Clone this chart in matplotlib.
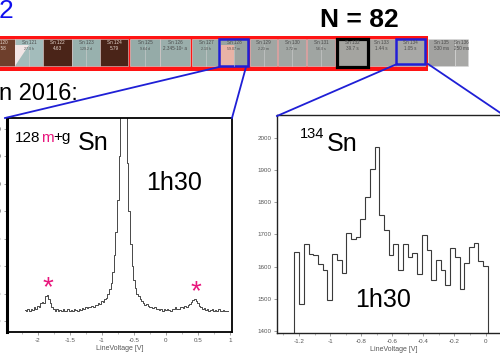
import numpy as np
import matplotlib
matplotlib.use("Agg")
import matplotlib.pyplot as plt
from matplotlib.patches import Rectangle, Polygon
from matplotlib.ticker import MultipleLocator

plt.rcParams['font.family'] = ['Liberation Sans', 'DejaVu Sans']

# --- 128m+g Sn scan (left panel)
volt_128 = np.round(np.arange(-2.2, 0.976, 0.025), 3)
counts_128 = [280, 275, 290, 270, 285, 280, 300, 290, 310, 300,
              330, 340, 335, 380, 390, 360, 330, 300, 290, 270,
              285, 275, 280, 270, 285, 275, 270, 285, 275, 280,
              270, 290, 280, 275, 290, 280, 295, 285, 300, 295,
              305, 300, 310, 305, 320, 315, 330, 325, 345, 340,
              360, 370, 395, 430, 480, 560, 680, 850, 1080, 1400,
              1850, 2400, 2500, 1900, 1350, 1000, 760, 600, 500, 440,
              400, 380, 360, 345, 335, 320, 325, 310, 305, 300,
              295, 300, 285, 290, 280, 285, 275, 285, 280, 290,
              280, 275, 290, 285, 300, 290, 285, 300, 305, 295,
              310, 300, 315, 325, 340, 350, 360, 345, 330, 310,
              300, 290, 295, 280, 290, 275, 280, 285, 270, 280,
              275, 285, 270, 275, 280, 270, 275, 270]
ticks_128 = [200, 400, 600, 800, 1000, 1200, 1400, 1600]

# --- 134Sn scan (right panel), histogram bins
edges_134 = np.linspace(-1.23, 0.015, 42)
counts_134 = [1645, 1484, 1671, 1640, 1635, 1609, 1588, 1497, 1640, 1619,
              1580, 1704, 1686, 1692, 1746, 1816, 1904, 1970, 1761, 1712,
              1635, 1669, 1590, 1669, 1629, 1642, 1577, 1697, 1652, 1559,
              1621, 1588, 1543, 1658, 1629, 1529, 1612, 1660, 1673, 1616,
              1601]

# --- strip of the nuclide chart
isotopes = ['Sn 120', 'Sn 121', 'Sn 122', 'Sn 123', 'Sn 124', 'Sn 125',
            'Sn 126', 'Sn 127', 'Sn 128', 'Sn 129', 'Sn 130', 'Sn 131',
            'Sn 132', 'Sn 133', 'Sn 134', 'Sn 135', 'Sn 136']
half_lives = ['32.58', '27.0 h', '4.63', '129.2 d', '5.79', '9.64 d',
              '2.345·10⁵ a', '2.10 h', '59.07 m', '2.23 m', '3.72 m',
              '56.0 s', '39.7 s', '1.44 s', '1.05 s', '530 ms', '250 ms']

W, H = 500, 361
fig = plt.figure(figsize=(5, 3.61), dpi=100)


def px_rect(l, t, r, b):
    return [l / W, (H - b) / H, (r - l) / W, (b - t) / H]


grey_txt = '#555555'
mag = '#e8177d'
blue = '#1f1fd6'

# left panel
ax1 = fig.add_axes(px_rect(7, 118, 232, 332))
ax1.plot(volt_128, counts_128, drawstyle='steps-mid', color='#484848', lw=0.7)
ax1.set_xlim(-2.48, 1.03)
ax1.set_ylim(120, 1680)
ax1.set_yticks(ticks_128)
ax1.xaxis.set_minor_locator(MultipleLocator(0.25))
ax1.set_xticks([-2, -1.5, -1, -0.5, 0, 0.5, 1])
ax1.set_xticklabels(['-2', '-1.5', '-1', '-0.5', '0', '0.5', '1'])
for s in ax1.spines.values():
    s.set_linewidth(1.3)
    s.set_color('black')
ax1.spines['left'].set_linewidth(2.2)
ax1.set_xlabel('LineVoltage [V]', fontsize=5, color=grey_txt, labelpad=2)

# right panel
ax2 = fig.add_axes(px_rect(277, 115, 510, 333))
ax2.stairs(counts_134, edges_134, color='#3a3a3a', lw=0.8)
ax2.set_xlim(-1.3415, 0.157)
ax2.set_ylim(1394, 2070)
ax2.set_xticks([-1.2, -1, -0.8, -0.6, -0.4, -0.2, 0])
ax2.set_xticklabels(['-1.2', '-1', '-0.8', '-0.6', '-0.4', '-0.2', '0'])
ax2.xaxis.set_minor_locator(MultipleLocator(0.1))
ax2.set_yticks([1400, 1500, 1600, 1700, 1800, 1900, 2000])
for s in ax2.spines.values():
    s.set_linewidth(1.0)
    s.set_color('#222222')
ax2.set_xlabel('LineVoltage [V]', fontsize=5, color=grey_txt, labelpad=2)

for ax in (ax1, ax2):
    ax.tick_params(which='major', labelsize=4.5, length=2, width=0.5,
                   color='#777777', labelcolor=grey_txt, pad=2)
    ax.tick_params(which='minor', length=1.2, width=0.4, color='#888888')

# overlay in pixel coordinates
ov = fig.add_axes([0, 0, 1, 1], zorder=10)
ov.patch.set_alpha(0)
ov.set_xlim(0, W)
ov.set_ylim(H, 0)
ov.axis('off')

# red frame behind the chart strip
ov.add_patch(Rectangle((-5, 36), 433, 35, color='#ff1414', lw=0))

cells = [(-14, 15), (15, 43), (43, 72), (72, 100), (100, 128), (130, 160),
         (160, 190), (192, 220), (220, 248), (250, 277), (278, 306),
         (307, 335), (337, 368), (368, 395), (396, 425), (428, 455), (455, 468)]
fills = ['#6e3f2c', '#a3bcbb', '#4a2418', '#98b1ae', '#4a2418', '#95aba8',
         '#9aaeab', '#98aca8', '#99a3a0', '#a0a6a3', '#a1a6a3', '#a0a5a2',
         '#a4a4a0', '#a6a6a2', '#a8a8a6', '#a2a2a0', '#a8a8a6']
split = [1, 3, 5, 7, 8, 9, 10, 11]
for i, (x0, x1) in enumerate(cells):
    ov.add_patch(Rectangle((x0, 39), x1 - x0, 27, facecolor=fills[i],
                           edgecolor='#d8d8d8', lw=0.4))
    dark = fills[i] in ('#6e3f2c', '#4a2418')
    tc = '#e6d8d0' if dark else '#4a4a4a'
    xm = (x0 + x1) / 2
    if i in split:
        ov.plot([xm, xm], [45, 66], color='#d0d0d0', lw=0.4)
    if i == 1:
        ov.add_patch(Polygon([[x0, 66], [x0, 45], [xm, 45]], closed=True,
                             facecolor='#f2e6e6', lw=0))
    if i == 8:
        ov.add_patch(Rectangle((x0, 45), xm - x0, 21, facecolor='#e8b3a6', lw=0))
    ov.text(xm, 43, isotopes[i], fontsize=3.3, color=tc, ha='center',
            va='center')
    ov.text(xm, 49, half_lives[i], fontsize=3.3 if i not in split else 2.6,
            color=tc, ha='center', va='center')

ov.add_patch(Rectangle((337, 39), 31, 28, fill=False, edgecolor='black', lw=2.3))
ov.add_patch(Rectangle((219, 39), 29, 27, fill=False, edgecolor=blue, lw=1.8))
ov.add_patch(Rectangle((396, 39), 29, 25, fill=False, edgecolor=blue, lw=1.8))

# zoom lines
ov.plot([219, 5], [67, 118], color=blue, lw=1.3)
ov.plot([246, 232], [67, 118], color=blue, lw=1.3)
ov.plot([397, 277], [64, 116], color=blue, lw=1.3)
ov.plot([428, 502], [64, 114], color=blue, lw=1.3)

# slide texts
ov.text(-1, 18.3, '2', fontsize=19, color='#1010ee', va='baseline')
ov.text(359, 26.7, 'N = 82', fontsize=19, fontweight='bold', ha='center',
        va='baseline')
ov.text(-1, 100, 'n 2016:', fontsize=17, va='baseline')

# labels inside the panels
ov.text(15, 141.5, '128', fontsize=11, va='baseline')
ov.text(41.5, 141.5, 'm', fontsize=11, color=mag, va='baseline')
ov.text(53.5, 141.5, '+g', fontsize=11, va='baseline')
ov.text(78, 150, 'Sn', fontsize=18, va='baseline')
ov.text(146, 189.5, '1h30', fontsize=18, va='baseline')
ov.text(47.7, 295, '*', fontsize=20, color=mag, ha='center', va='baseline')
ov.text(196, 299, '*', fontsize=20, color=mag, ha='center', va='baseline')

ov.text(299.5, 137.7, '134', fontsize=10.5, va='baseline')
ov.text(326.5, 151, 'Sn', fontsize=18, va='baseline')
ov.text(355, 307.3, '1h30', fontsize=18, va='baseline')

fig.savefig('out.png', dpi=100)
